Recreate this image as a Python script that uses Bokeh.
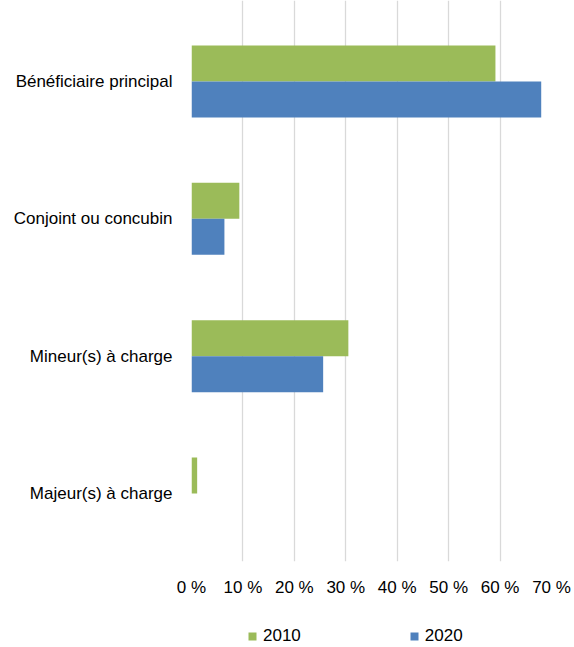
from bokeh.plotting import figure
from bokeh.layouts import column
from bokeh.models import ColumnDataSource, Range1d, FixedTicker, Legend, LegendItem
from bokeh.transform import dodge
from bokeh.embed import file_html
from bokeh.resources import INLINE

# ---- data ----
categories = ["Bénéficiaire principal", "Conjoint ou concubin",
              "Mineur(s) à charge", "Majeur(s) à charge"]
series_names = ["2010", "2020"]
values_2010 = [59.1, 9.3, 30.5, 1.1]
values_2020 = [68.0, 6.4, 25.6, 0.0]
x_ticks = [0, 10, 20, 30, 40, 50, 60, 70]
x_tick_labels = ["0 %", "10 %", "20 %", "30 %", "40 %", "50 %", "60 %", "70 %"]

colors = ["#9BBB59", "#4F81BD"]
FONT = "Liberation Sans"
FS = "17px"

ypos = [len(categories) - 1 - i for i in range(len(categories))]
src = ColumnDataSource(dict(y=ypos, cat=categories, v2010=values_2010, v2020=values_2020))

p = figure(width=574, height=606, output_backend="svg", toolbar_location=None,
           x_range=Range1d(0, 70), y_range=Range1d(-0.4945, 3.589),
           min_border_left=191, min_border_right=23, min_border_top=0, min_border_bottom=45)
p.outline_line_color = None
p.background_fill_color = "white"
p.border_fill_color = "white"

bar_h = 0.262
r1 = p.hbar(y=dodge("y", bar_h / 2, range=p.y_range), left=0, right="v2010", height=bar_h,
            source=src, fill_color=colors[0], line_color=None)
r2 = p.hbar(y=dodge("y", -bar_h / 2, range=p.y_range), left=0, right="v2020", height=bar_h,
            source=src, fill_color=colors[1], line_color=None)

# x axis
p.xaxis.ticker = FixedTicker(ticks=x_ticks)
p.xaxis.major_label_overrides = {t: l for t, l in zip(x_ticks, x_tick_labels)}
p.xaxis.axis_line_color = None
p.xaxis.major_tick_line_color = None
p.xaxis.minor_tick_line_color = None
p.xaxis.major_tick_out = 0
p.xaxis.major_label_standoff = 16
p.xaxis.major_label_text_font = FONT
p.xaxis.major_label_text_font_size = FS
p.xaxis.major_label_text_color = "black"

# y axis
p.yaxis.ticker = FixedTicker(ticks=ypos)
p.yaxis.major_label_overrides = {y: c for y, c in zip(ypos, categories)}
p.yaxis.axis_line_color = None
p.yaxis.major_tick_line_color = None
p.yaxis.minor_tick_line_color = None
p.yaxis.major_tick_out = 0
p.yaxis.major_label_standoff = 19
p.yaxis.major_label_text_font = FONT
p.yaxis.major_label_text_font_size = FS
p.yaxis.major_label_text_color = "black"

# grid
p.xgrid.ticker = FixedTicker(ticks=x_ticks)
p.xgrid.grid_line_color = "#d9d9d9"
p.xgrid.grid_line_width = 1.3
p.ygrid.grid_line_color = None

# ---- legend strip below the chart (its own renderers sit outside its view) ----
lg = figure(width=574, height=41, output_backend="svg", toolbar_location=None,
            x_range=Range1d(0, 70), y_range=Range1d(100, 101),
            min_border_left=191, min_border_right=23, min_border_top=0, min_border_bottom=0)
lg.outline_line_color = None
lg.axis.visible = False
lg.grid.visible = False
g1 = lg.hbar(y="y", left=0, right="v2010", height=bar_h, source=src,
             fill_color=colors[0], line_color=None)
g2 = lg.hbar(y="y", left=0, right="v2020", height=bar_h, source=src,
             fill_color=colors[1], line_color=None)

legend = Legend(items=[LegendItem(label=series_names[0], renderers=[g1]),
                       LegendItem(label=series_names[1], renderers=[g2])],
                orientation="horizontal", location=(56, 1), padding=0, margin=0,
                spacing=108, glyph_width=10, glyph_height=10, label_standoff=6,
                border_line_color=None, background_fill_alpha=0,
                label_text_font=FONT, label_text_font_size=FS, label_text_color="black")
lg.add_layout(legend)

layout = column(p, lg, spacing=0)
open("out.html", "w").write(file_html(layout, INLINE))
